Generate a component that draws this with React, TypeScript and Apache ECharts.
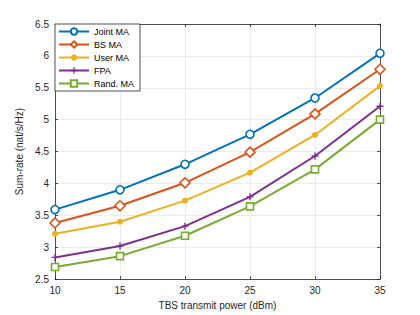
import React, { useEffect, useRef } from "react";
import * as echarts from "echarts";

const powers = [10, 15, 20, 25, 30, 35];
const jointMA = [3.59, 3.9, 4.3, 4.77, 5.34, 6.04];
const bsMA = [3.38, 3.65, 4.01, 4.49, 5.09, 5.79];
const userMA = [3.21, 3.4, 3.73, 4.17, 4.76, 5.53];
const fpa = [2.84, 3.02, 3.33, 3.79, 4.43, 5.21];
const randMA = [2.69, 2.86, 3.18, 3.64, 4.22, 5.0];

const FONT = "'Liberation Sans', Arial, Helvetica, sans-serif";
const PLUS = "path://M4,0 L6,0 L6,4 L10,4 L10,6 L6,6 L6,10 L4,10 L4,6 L0,6 L0,4 L4,4 Z";

export default function App() {
  const ref = useRef<HTMLDivElement>(null);
  useEffect(() => {
    if (!ref.current) return;
    const chart = echarts.init(ref.current, undefined, { renderer: "svg" });
    const mk = (name: string, data: number[], color: string, symbol: string, size: number, filled: boolean) => ({
      name,
      type: "line",
      data: powers.map((p, i) => [p, data[i]]),
      symbol,
      symbolSize: size,
      showSymbol: true,
      lineStyle: { color, width: 2 },
      itemStyle: { color: filled ? color : "#ffffff", borderColor: color, borderWidth: filled ? 0 : 1.6 },
      emphasis: { disabled: true },
      z: 3,
    });
    const axisCommon = {
      axisLine: { show: true, lineStyle: { color: "#262626", width: 0.8 } },
      axisTick: { show: true, inside: true, length: 3, lineStyle: { color: "#262626", width: 0.8 } },
    };
    chart.setOption({
      animation: false,
      backgroundColor: "#ffffff",
      grid: { left: 55, top: 24, right: 40, bottom: 35, containLabel: false },
      legend: {
        left: 55,
        top: 24,
        orient: "vertical",
        itemWidth: 30,
        itemHeight: 8,
        itemGap: 4,
        padding: [3, 6, 3, 3],
        backgroundColor: "#ffffff",
        borderColor: "#262626",
        borderWidth: 0.8,
        textStyle: { fontFamily: FONT, fontSize: 9, color: "#000" },
        data: ["Joint MA", "BS MA", "User MA", "FPA", "Rand. MA"],
      },
      xAxis: [
        {
          type: "value",
          min: 10,
          max: 35,
          interval: 5,
          ...axisCommon,
          axisLabel: { fontFamily: FONT, fontSize: 10, color: "#262626", margin: 6 },
          splitLine: { show: true, lineStyle: { color: "#e6e6e6", width: 0.8 } },
          name: "TBS transmit power (dBm)",
          nameLocation: "middle",
          nameGap: 20,
          nameTextStyle: { fontFamily: FONT, fontSize: 10, color: "#262626" },
        },
        {
          type: "value",
          position: "top",
          min: 10,
          max: 35,
          interval: 5,
          ...axisCommon,
          axisLabel: { show: false },
          splitLine: { show: false },
        },
      ],
      yAxis: [
        {
          type: "value",
          min: 2.5,
          max: 6.5,
          interval: 0.5,
          ...axisCommon,
          axisLabel: { fontFamily: FONT, fontSize: 10, color: "#262626", margin: 6 },
          splitLine: { show: true, lineStyle: { color: "#e6e6e6", width: 0.8 } },
          name: "Sum-rate (nat/s/Hz)",
          nameLocation: "middle",
          nameGap: 28,
          nameTextStyle: { fontFamily: FONT, fontSize: 10, color: "#262626" },
        },
        {
          type: "value",
          position: "right",
          min: 2.5,
          max: 6.5,
          interval: 0.5,
          ...axisCommon,
          axisLabel: { show: false },
          splitLine: { show: false },
        },
      ],
      series: [
        mk("Joint MA", jointMA, "#0072BD", "circle", 8, false),
        mk("BS MA", bsMA, "#D95319", "diamond", 10, false),
        mk("User MA", userMA, "#EDB120", "circle", 6, true),
        mk("FPA", fpa, "#7E2F8E", PLUS, 7, true),
        mk("Rand. MA", randMA, "#77AC30", "rect", 7, false),
      ],
    });
    return () => chart.dispose();
  }, []);
  return <div ref={ref} style={{ position: "fixed", left: 0, top: 0, width: 420, height: 315 }} />;
}
